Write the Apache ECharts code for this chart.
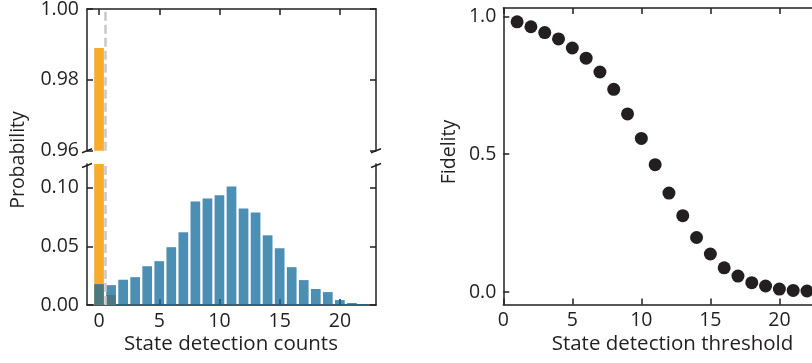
<!DOCTYPE html>
<html>
<head>
<meta charset="utf-8">
<script src="https://cdn.jsdelivr.net/npm/echarts@6/dist/echarts.min.js"></script>
<style>
html,body{margin:0;padding:0;background:#fff;}
#c{width:812px;height:363px;}
</style>
</head>
<body>
<div id="c"></div>
<script>
// ---- data ----
const detectionCounts = [0,1,2,3,4,5,6,7,8,9,10,11,12,13,14,15,16,17,18,19,20,21,22];
const brightStateProb = [0.0178,0.0169,0.0215,0.0237,0.0330,0.0373,0.0492,0.0619,0.0881,0.0907,0.0935,0.1008,0.0822,0.0788,0.0593,0.0483,0.0322,0.0212,0.0136,0.0110,0.0042,0.0017,0.0008];
const darkStateCounts = [0,1];
const darkStateProb = [0.989,0.0085];
const thresholds = [1,2,3,4,5,6,7,8,9,10,11,12,13,14,15,16,17,18,19,20,21,22];
const fidelity = [0.980,0.962,0.941,0.918,0.885,0.848,0.798,0.735,0.646,0.557,0.462,0.359,0.277,0.198,0.138,0.088,0.058,0.034,0.022,0.011,0.006,0.004];
const topPanelYTicks = [0.96,0.98,1.00];
const bottomPanelYTicks = [0.00,0.05,0.10];
const countTicks = [0,5,10,15,20];
const fidelityTicks = [0.0,0.5,1.0];
const thresholdTicks = [0,5,10,15,20];
const thresholdLine = 0.5;

// ---- styles ----
const INK = '#231f20';
const FONT = 'Open Sans';
const FS = 19.5;
const TITLE_FS = 20.5;
const ORANGE = '#f9ab2c';
const BLUE = 'rgba(15,106,156,0.75)';

function axisCommon(o){
  return Object.assign({
    type:'value',
    axisLine:{show:true,onZero:false,lineStyle:{color:INK,width:1.5}},
    splitLine:{show:false},
    axisTick:{show:true,inside:true,length:6,lineStyle:{color:INK,width:1.5}},
    axisLabel:{show:false}
  },o);
}
function ticks(vals){return {show:true,inside:true,length:6,lineStyle:{color:INK,width:1.5},customValues:vals};}
function labels(vals,dec,margin){return {show:true,customValues:vals,margin:margin,color:INK,fontFamily:FONT,fontSize:FS,formatter:v=>Number(v).toFixed(dec)};}

const darkData = darkStateCounts.map((c,i)=>[c,darkStateProb[i]]);
const brightData = detectionCounts.map((c,i)=>[c,brightStateProb[i]]);
const fidData = thresholds.map((t,i)=>[t,fidelity[i]]);

const dashLine = {
  silent:true, symbol:['none','none'], label:{show:false},
  lineStyle:{color:'#c8c8c8',width:2.5,type:[9,4]},
  data:[{xAxis:thresholdLine}]
};

const grids = [
  {left:87, right:436, top:9, height:141.7},
  {left:87, right:436, top:164, height:141},
  {left:503.3, right:-29.5, top:8, height:296.5}
];
grids.forEach(g=>{g.outerBoundsMode='none';g.containLabel=false;});

const option = {
  animation:false,
  backgroundColor:'#fff',
  grid:grids,
  xAxis:[
    axisCommon({gridIndex:0,position:'top',min:-1,max:23,axisTick:ticks(countTicks)}),
    axisCommon({gridIndex:1,position:'bottom',min:-1,max:23,axisTick:ticks(countTicks),axisLabel:labels(countTicks,0,6)}),
    axisCommon({gridIndex:2,position:'bottom',min:0,max:24.5,axisTick:ticks(thresholdTicks),axisLabel:labels(thresholdTicks,0,6)}),
    axisCommon({gridIndex:2,position:'top',min:0,max:24.5,axisTick:ticks(thresholdTicks)})
  ],
  yAxis:[
    axisCommon({gridIndex:0,position:'left',min:0.96,max:1.00,axisTick:ticks(topPanelYTicks),axisLabel:labels(topPanelYTicks,2,8)}),
    axisCommon({gridIndex:0,position:'right',min:0.96,max:1.00,axisTick:ticks(topPanelYTicks)}),
    axisCommon({gridIndex:1,position:'left',min:0,max:0.12,axisTick:ticks(bottomPanelYTicks),axisLabel:labels(bottomPanelYTicks,2,8)}),
    axisCommon({gridIndex:1,position:'right',min:0,max:0.12,axisTick:ticks(bottomPanelYTicks)}),
    axisCommon({gridIndex:2,position:'left',min:-0.045,max:1.03,axisTick:ticks(fidelityTicks),axisLabel:labels(fidelityTicks,1,7)})
  ],
  series:[
    {type:'bar',xAxisIndex:0,yAxisIndex:0,data:darkData,barWidth:9.7,barGap:'-100%',itemStyle:{color:ORANGE},clip:true,z:2},
    {type:'bar',xAxisIndex:0,yAxisIndex:0,data:brightData,barWidth:9.7,barGap:'-100%',itemStyle:{color:BLUE},clip:true,z:3,markLine:dashLine},
    {type:'bar',xAxisIndex:1,yAxisIndex:2,data:darkData,barWidth:9.7,barGap:'-100%',itemStyle:{color:ORANGE},clip:true,z:2},
    {type:'bar',xAxisIndex:1,yAxisIndex:2,data:brightData,barWidth:9.7,barGap:'-100%',itemStyle:{color:BLUE},clip:true,z:3,markLine:dashLine},
    {type:'scatter',xAxisIndex:2,yAxisIndex:4,data:fidData,symbol:'circle',symbolSize:13,itemStyle:{color:INK,opacity:1},clip:false,z:3}
  ],
  graphic:[]
};

const chart = echarts.init(document.getElementById('c'),null,{renderer:'canvas'});
chart.setOption(option);

// titles and axis-break marks
function brk(x,y){return {type:'line',silent:true,z:10,shape:{x1:x-5,y1:y+2,x2:x+5,y2:y-2},style:{stroke:INK,lineWidth:1.5}};}
function title(text,x,y,rot,fs){return {type:'text',silent:true,x:x,y:y,rotation:rot||0,style:{text:text,fill:INK,font:fs+'px "'+FONT+'"',align:'center',verticalAlign:'middle'}};}
const gTopBottom = grids[0].top+grids[0].height;
const gBotTop = grids[1].top;
const lx = grids[0].left, rx = 812-grids[0].right;
chart.setOption({graphic:[
  brk(lx,gTopBottom),brk(rx,gTopBottom),brk(lx,gBotTop+1.5),brk(rx,gBotTop+1.5),
  title('Probability',18.5,160,Math.PI/2,19.5),
  title('Fidelity',449,152,Math.PI/2,19.5),
  title('State detection counts',231,344,0,TITLE_FS),
  title('State detection threshold',672.5,344,0,TITLE_FS)
]});
</script>
</body>
</html>
